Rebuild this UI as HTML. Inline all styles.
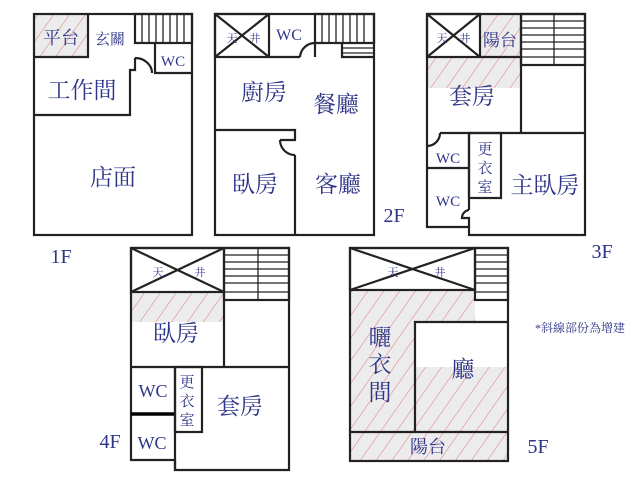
<!DOCTYPE html>
<html><head><meta charset="utf-8"><style>
html,body{margin:0;padding:0;background:#fff;width:638px;height:480px;overflow:hidden}
svg text{font-family:"Liberation Serif","Noto Serif CJK TC","Noto Serif CJK SC",serif;fill:#2e3488}
.w{fill:none;stroke:#222;stroke-width:2.2}
.t{stroke:#222;stroke-width:1.3;fill:none}
</style></head><body>
<svg width="638" height="480" viewBox="0 0 638 480" xmlns="http://www.w3.org/2000/svg">
<defs>
<pattern id="h" patternUnits="userSpaceOnUse" width="13" height="13" patternTransform="rotate(35)">
<rect width="13" height="13" fill="#ececec"/>
<line x1="0" y1="0" x2="0" y2="13" stroke="#e06a6a" stroke-width="0.9"/>
</pattern>
</defs>

<!-- ===== 1F ===== -->
<rect x="34" y="14" width="54" height="43" fill="url(#h)"/>
<rect x="34" y="14" width="158" height="221" class="w"/>
<polyline points="34,57 88,57 88,14" class="w"/>
<rect x="135" y="14" width="57" height="29" class="w"/>
<g class="t">
<line x1="142" y1="14" x2="142" y2="43"/><line x1="149" y1="14" x2="149" y2="43"/><line x1="156" y1="14" x2="156" y2="43"/><line x1="163" y1="14" x2="163" y2="43"/><line x1="170" y1="14" x2="170" y2="43"/><line x1="177" y1="14" x2="177" y2="43"/><line x1="184" y1="14" x2="184" y2="43"/>
</g>
<polyline points="155,43 155,73 192,73" class="w"/>
<polyline points="34,115 130,115 130,70 135,70 135,58" class="w"/>
<path d="M135,58 A17,15 0 0 1 152,73" class="w"/>
<text x="61" y="44" font-size="18" text-anchor="middle">平台</text>
<text x="110" y="44" font-size="15" text-anchor="middle">玄關</text>
<text x="173" y="66" font-size="15" text-anchor="middle">WC</text>
<text x="82" y="98" font-size="23" text-anchor="middle">工作間</text>
<text x="113" y="185" font-size="23" text-anchor="middle">店面</text>
<text x="61" y="263" font-size="20" text-anchor="middle">1F</text>

<!-- ===== 2F ===== -->
<rect x="215" y="14" width="159" height="221" class="w"/>
<rect x="215" y="14" width="54" height="43" class="w"/>
<line x1="215" y1="14" x2="269" y2="57" class="w"/><line x1="269" y1="14" x2="215" y2="57" class="w"/>
<polyline points="269,57 300,57" class="w"/>
<path d="M300,57 A15,15 0 0 1 315,43" class="w"/>
<line x1="315" y1="43" x2="315" y2="57" class="w" stroke-width="3"/>
<rect x="315" y="14" width="59" height="29" class="w"/>
<g class="t">
<line x1="322" y1="14" x2="322" y2="43"/><line x1="329" y1="14" x2="329" y2="43"/><line x1="336" y1="14" x2="336" y2="43"/><line x1="343" y1="14" x2="343" y2="43"/><line x1="350" y1="14" x2="350" y2="43"/><line x1="357" y1="14" x2="357" y2="43"/><line x1="364" y1="14" x2="364" y2="43"/>
<line x1="342" y1="48" x2="374" y2="48"/><line x1="342" y1="53" x2="374" y2="53"/>
</g>
<polyline points="342,43 342,57 374,57" class="w"/>
<polyline points="215,130 295,130 295,140 280,140" class="w"/>
<path d="M280,140 A15,15 0 0 0 295,155" class="w"/>
<line x1="295" y1="155" x2="295" y2="235" class="w"/>
<text x="232" y="42" font-size="11" text-anchor="middle">天</text>
<text x="255" y="42" font-size="11" text-anchor="middle">井</text>
<text x="289" y="40" font-size="16" text-anchor="middle">WC</text>
<text x="264" y="100" font-size="23" text-anchor="middle">廚房</text>
<text x="336" y="112" font-size="23" text-anchor="middle">餐廳</text>
<text x="255" y="192" font-size="23" text-anchor="middle">臥房</text>
<text x="338" y="192" font-size="23" text-anchor="middle">客廳</text>
<text x="394" y="222" font-size="20" text-anchor="middle">2F</text>

<!-- ===== 3F ===== -->
<rect x="480" y="14" width="41" height="43" fill="url(#h)"/>
<rect x="427" y="57" width="94" height="31" fill="url(#h)"/>
<polyline points="427,14 585,14 585,235 469,235 469,227 427,227 427,14" class="w"/>
<rect x="427" y="14" width="53" height="43" class="w"/>
<line x1="427" y1="14" x2="480" y2="57" class="w"/><line x1="480" y1="14" x2="427" y2="57" class="w"/>
<line x1="480" y1="57" x2="521" y2="57" class="w"/>
<line x1="521" y1="14" x2="521" y2="133" class="w"/>
<rect x="521" y="14" width="64" height="51" class="w"/>
<g class="t">
<line x1="521" y1="21" x2="585" y2="21"/><line x1="521" y1="28" x2="585" y2="28"/><line x1="521" y1="35" x2="585" y2="35"/><line x1="521" y1="42" x2="585" y2="42"/><line x1="521" y1="49" x2="585" y2="49"/><line x1="521" y1="57" x2="585" y2="57"/>
<line x1="554" y1="14" x2="554" y2="65"/>
</g>
<line x1="440" y1="133" x2="585" y2="133" class="w"/>
<path d="M427,146 A13,13 0 0 0 440,133" class="w"/>
<line x1="427" y1="168" x2="469" y2="168" class="w"/>
<line x1="469" y1="133" x2="469" y2="210" class="w"/>
<path d="M469,210 A8,8 0 0 0 462,218 L469,218 L469,227" class="w"/>
<rect x="469" y="133" width="32" height="65" class="w"/>
<text x="442" y="42" font-size="11" text-anchor="middle">天</text>
<text x="465" y="42" font-size="11" text-anchor="middle">井</text>
<text x="500" y="46" font-size="17" text-anchor="middle">陽台</text>
<text x="472" y="104" font-size="23" text-anchor="middle">套房</text>
<text x="448" y="163" font-size="15" text-anchor="middle">WC</text>
<text x="448" y="206" font-size="15" text-anchor="middle">WC</text>
<text x="485" y="154" font-size="15" text-anchor="middle">更</text>
<text x="485" y="173" font-size="15" text-anchor="middle">衣</text>
<text x="485" y="192" font-size="15" text-anchor="middle">室</text>
<text x="545" y="193" font-size="23" text-anchor="middle">主臥房</text>
<text x="602" y="258" font-size="20" text-anchor="middle">3F</text>

<!-- ===== 4F ===== -->
<rect x="131" y="292" width="93" height="30" fill="url(#h)"/>
<polyline points="131,248 289,248 289,470 175,470 175,460 131,460 131,248" class="w"/>
<rect x="131" y="248" width="93" height="44" class="w"/>
<line x1="131" y1="248" x2="224" y2="292" class="w"/><line x1="224" y1="248" x2="131" y2="292" class="w"/>
<rect x="224" y="248" width="65" height="52" class="w"/>
<g class="t">
<line x1="224" y1="255" x2="289" y2="255"/><line x1="224" y1="262" x2="289" y2="262"/><line x1="224" y1="269" x2="289" y2="269"/><line x1="224" y1="276" x2="289" y2="276"/><line x1="224" y1="283" x2="289" y2="283"/><line x1="224" y1="292" x2="289" y2="292"/>
<line x1="258" y1="248" x2="258" y2="300"/>
</g>
<line x1="224" y1="292" x2="224" y2="367" class="w"/>
<line x1="131" y1="367" x2="289" y2="367" class="w"/>
<line x1="175" y1="367" x2="175" y2="470" class="w"/>
<line x1="131" y1="414" x2="175" y2="414" stroke="#000" stroke-width="3.5"/>
<rect x="175" y="367" width="27" height="65" class="w"/>
<text x="158" y="276" font-size="11" text-anchor="middle">天</text>
<text x="200" y="276" font-size="11" text-anchor="middle">井</text>
<text x="176" y="341" font-size="23" text-anchor="middle">臥房</text>
<text x="153" y="397" font-size="18" text-anchor="middle">WC</text>
<text x="152" y="449" font-size="18" text-anchor="middle">WC</text>
<text x="187" y="387" font-size="15" text-anchor="middle">更</text>
<text x="187" y="406" font-size="15" text-anchor="middle">衣</text>
<text x="187" y="425" font-size="15" text-anchor="middle">室</text>
<text x="240" y="414" font-size="23" text-anchor="middle">套房</text>
<text x="110" y="448" font-size="20" text-anchor="middle">4F</text>

<!-- ===== 5F ===== -->
<path d="M350,290 L475,290 L475,322 L415,322 L415,367 L508,367 L508,461 L350,461 Z" fill="url(#h)"/>
<rect x="350" y="248" width="158" height="213" class="w"/>
<rect x="350" y="248" width="125" height="42" class="w"/>
<line x1="350" y1="248" x2="475" y2="290" class="w"/><line x1="475" y1="248" x2="350" y2="290" class="w"/>
<rect x="475" y="248" width="33" height="52" class="w"/>
<g class="t">
<line x1="475" y1="255" x2="508" y2="255"/><line x1="475" y1="262" x2="508" y2="262"/><line x1="475" y1="269" x2="508" y2="269"/><line x1="475" y1="276" x2="508" y2="276"/><line x1="475" y1="283" x2="508" y2="283"/><line x1="475" y1="292" x2="508" y2="292"/>
</g>
<polyline points="415,432 415,322 508,322" class="w"/>
<line x1="350" y1="432" x2="508" y2="432" class="w"/>
<text x="393" y="276" font-size="11" text-anchor="middle">天</text>
<text x="440" y="276" font-size="11" text-anchor="middle">井</text>
<text x="380" y="345" font-size="23" text-anchor="middle">曬</text>
<text x="380" y="372" font-size="23" text-anchor="middle">衣</text>
<text x="380" y="400" font-size="23" text-anchor="middle">間</text>
<text x="463" y="377" font-size="23" text-anchor="middle">廳</text>
<text x="428" y="453" font-size="18" text-anchor="middle">陽台</text>
<text x="538" y="453" font-size="20" text-anchor="middle">5F</text>
<text x="580" y="332" font-size="12" text-anchor="middle">*斜線部份為增建</text>
</svg>
</body></html>
